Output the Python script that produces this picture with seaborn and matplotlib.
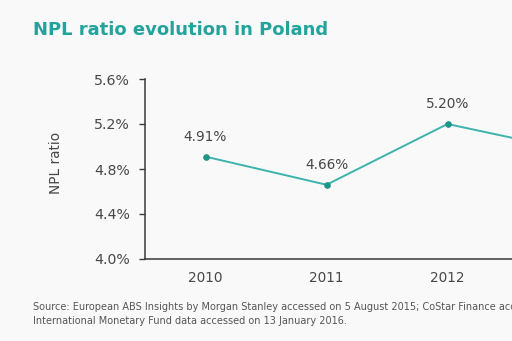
import matplotlib
matplotlib.use("Agg")
import matplotlib.pyplot as plt
import seaborn as sns
import pandas as pd
from matplotlib.ticker import FixedLocator, FuncFormatter

# NPL ratio by year (percent)
years = ["2010", "2011", "2012", "2013"]
npl_ratio = [4.91, 4.66, 5.20, 4.97]
y_ticks = [4.0, 4.4, 4.8, 5.2, 5.6]
shown_years = 3  # the panel is cropped just after 2012

title_text = "NPL ratio evolution in Poland"
y_label = "NPL ratio"
source_lines = [
    "Source: European ABS Insights by Morgan Stanley accessed on 5 August 2015; CoStar Finance accessed",
    "International Monetary Fund data accessed on 13 January 2016.",
]

df = pd.DataFrame({"year": years, "npl": npl_ratio})

sns.set_theme(style="white")
plt.rcParams["font.family"] = ["DejaVu Sans"]

BG = "#f9f9f9"
TEAL = "#3db3ad"
DOT = "#1f9488"
TEXT = "#474747"
SPINE = "#3a3a3a"

fig = plt.figure(figsize=(5.12, 3.41), dpi=100, facecolor=BG)
# axes runs past the right edge of the figure, so the last year is cut off
ax = fig.add_axes([145 / 512, 1 - 259 / 341, 484 / 512, 180 / 341])
ax.set_facecolor(BG)

sns.lineplot(data=df, x="year", y="npl", ax=ax, color=TEAL, linewidth=1.4,
             marker="o", markersize=4, markerfacecolor=DOT, markeredgecolor=DOT,
             sort=False)

for i, v in enumerate(npl_ratio[:shown_years]):
    ax.annotate(f"{v:.2f}%", (i, v), xytext=(0, 9), textcoords="offset points",
                ha="center", va="bottom", fontsize=9.8, color=TEXT)

ax.set_xlim(-0.5, len(years) - 0.5)
ax.set_ylim(y_ticks[0], y_ticks[-1])
ax.yaxis.set_major_locator(FixedLocator(y_ticks))
ax.yaxis.set_major_formatter(FuncFormatter(lambda v, _: f"{v:.1f}%"))

# year labels centred, tick marks on the category boundaries
ax.set_xticks(range(len(years)))
ax.set_xticklabels([y if i < shown_years else "" for i, y in enumerate(years)])
ax.set_xticks([i - 0.5 for i in range(len(years) + 1)], minor=True)
ax.tick_params(axis="x", which="major", length=0, pad=9, labelsize=9.8, labelcolor=TEXT)
ax.tick_params(axis="x", which="minor", length=4, width=1, color=SPINE, direction="out")
ax.tick_params(axis="y", which="major", length=4, width=1, color=SPINE, direction="out",
               pad=7, labelsize=10.2, labelcolor=TEXT, left=True)

for side in ["top", "right"]:
    ax.spines[side].set_visible(False)
for side in ["left", "bottom"]:
    ax.spines[side].set_color(SPINE)
    ax.spines[side].set_linewidth(1.1)

ax.set_xlabel("")
ax.set_ylabel(y_label, fontsize=9.8, color=TEXT)
ax.yaxis.set_label_coords((63 - 145) / 484, (259 - 163) / 180)

fig.text(33 / 512, 1 - 30 / 341, title_text, fontsize=13, fontweight="bold",
         color="#23a39c", ha="left", va="center")
fig.text(33 / 512, 1 - 307 / 341, source_lines[0], fontsize=7.0, color="#555555",
         ha="left", va="center")
fig.text(33 / 512, 1 - 321 / 341, source_lines[1], fontsize=7.0, color="#555555",
         ha="left", va="center")

fig.savefig("out.png", dpi=100, facecolor=BG)
